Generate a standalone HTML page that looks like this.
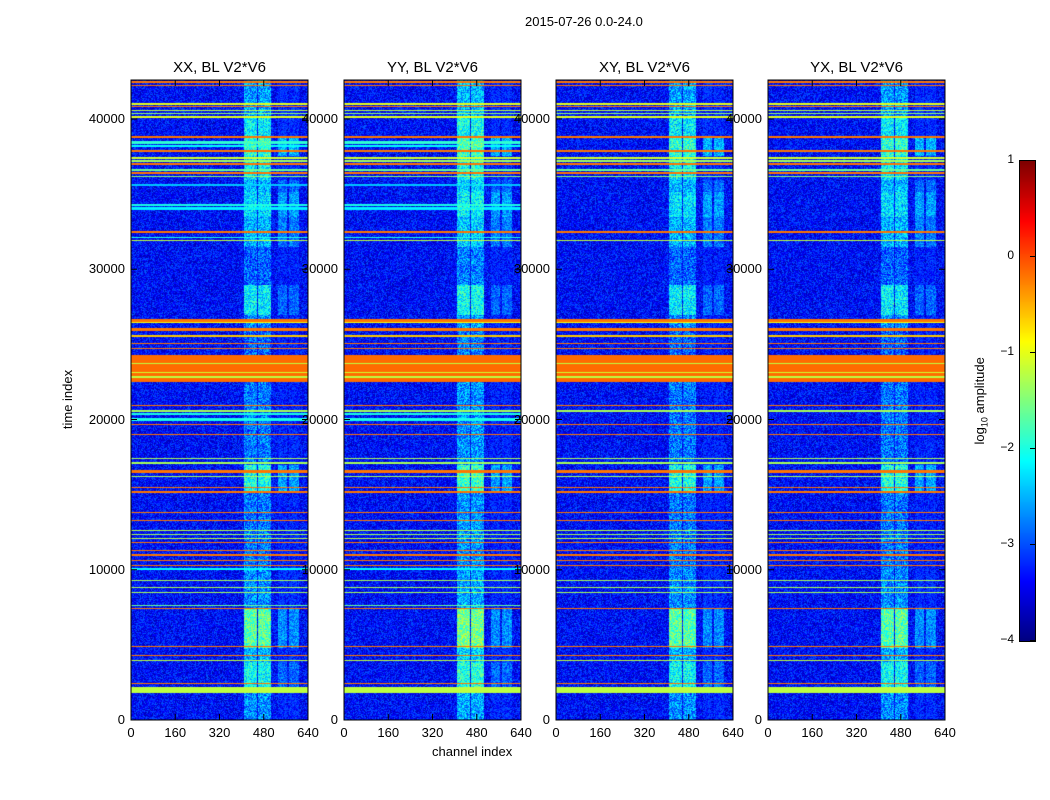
<!DOCTYPE html>
<html><head><meta charset="utf-8">
<style>
body{margin:0;background:#fff;width:1050px;height:800px;overflow:hidden;font-family:"Liberation Sans",sans-serif;}
#wrap{position:relative;width:1050px;height:800px;}
.t{position:absolute;font-size:13px;color:#000;white-space:nowrap;}
canvas{position:absolute;}
</style></head>
<body><div id="wrap">
<div class="t" style="left:525px;top:14px;">2015-07-26 0.0-24.0</div>
<div class="t" style="left:38px;top:392px;transform:rotate(-90deg);">time index</div>
<div class="t" style="left:432px;top:744px;">channel index</div>
<canvas id="cb" width="15" height="480" style="left:1019px;top:160px;border:1px solid #000;box-sizing:content-box;"></canvas>
<div class="t" style="left:937px;top:392px;transform:rotate(-90deg);">log<sub style="font-size:9px">10</sub> amplitude</div>
</div>
<script>
const panelTitles=["XX, BL V2*V6","YY, BL V2*V6","XY, BL V2*V6","YX, BL V2*V6"];
const panelLeft=[131,344,556,768];
const xTicks=[0,160,320,480,640];
const yTicks=[0,10000,20000,30000,40000];
const cbTicks=[1,0,-1,-2,-3,-4];
// horizontal RFI bands: [tStart, tEnd, log10 amplitude, crossPolToo(1) or parallel only(0)]
const hStart=[42450,42200,40950,40800,40550,40350,40100,38750,38400,38150,37850,37400,37200,37000,36550,36400,36150,35550,34250,34000,32450,32100,31900,26550,26450,25950,25550,25050,24700,22550,23700,23100,22800,20900,20550,20300,19950,19650,19000,17400,17100,16450,16200,15450,15150,13800,13250,12600,12350,12050,11800,11250,10950,10600,10280,10000,9280,8800,8480,7600,7400,4880,4300,3950,2400,1800];
const hEnd  =[42550,42300,41100,40900,40650,40450,40200,38900,38550,38300,37950,37500,37300,37100,36700,36500,36250,35700,34350,34150,32550,32200,31980,26700,26550,26150,25650,25150,24800,24300,23800,23200,22900,21000,20650,20450,20150,19750,19100,17480,17200,16650,16280,15550,15300,13900,13350,12700,12420,12150,11900,11350,11050,10700,10380,10150,9360,8880,8560,7700,7500,4960,4380,4030,2500,2200];
const hVal  =[-0.2,-0.2,-1.0,-0.2,-1.2,-1.4,-1.0,-0.2,-1.9,-2.1,-0.2,-1.1,-1.3,-0.2,-1.6,-0.2,-1.4,-2.4,-2.0,-2.2,-0.2,-2.0,-1.2,-0.2,-0.9,-0.2,-0.6,-0.2,-0.2,-0.15,-1.2,-1.1,-1.2,-0.2,-1.3,-2.0,-2.0,-0.2,-0.2,-1.3,-1.3,-0.2,-1.3,-0.2,-0.2,-0.2,-0.2,-1.2,-1.3,-1.2,-0.2,-0.2,-0.2,-0.2,-0.2,-2.1,-1.3,-1.3,-1.3,-1.6,-0.2,-0.2,-0.2,-1.2,-0.2,-1.2];
const hAll  =[1,1,1,1,1,1,1,1,0,0,1,1,1,1,1,1,1,0,0,0,1,0,1,1,1,1,1,1,1,1,1,1,1,1,1,0,0,1,1,1,1,1,1,1,1,1,1,1,1,1,1,1,1,1,1,0,1,1,1,0,1,1,1,1,1,1];
// vertical channel-band activity: [tStart, tEnd, main-band level, side-band level]
const vStart=[0,2000,3900,4800,7500,10000,15300,17000,22500,26000,27000,29000,31500,33500,35200,36000,37600,38800,40200];
const vEnd  =[2000,3900,4800,7500,10000,15300,17000,22500,26000,27000,29000,31500,33500,35200,36000,37600,38800,40200,42600];
const vMain =[-2.7,-2.1,-2.5,-1.7,-2.7,-2.8,-2.0,-2.8,-2.9,-2.7,-2.2,-2.9,-2.5,-2.3,-2.5,-2.2,-1.9,-2.2,-2.6];
const vSide =[-3.3,-2.9,-3.3,-2.7,-3.3,-3.4,-2.6,-3.4,-3.4,-3.4,-2.9,-3.4,-2.8,-2.6,-2.9,-3.3,-2.5,-3.3,-3.3];
const mainCh=[[405,452],[458,503]];
const sideCh=[[528,564],[568,604]];

const T0=720, PPU=601/40000, PW=177, PH=640, TOP=80;
function yOf(t){return T0-t*PPU;}
function xOf(c,left){return left+c*PW/640;}
function jet(v){
  let x=(v+4)/5; x=Math.max(0,Math.min(1,x));
  const f=(a)=>Math.max(0,Math.min(1,a));
  return [f(1.5-Math.abs(4*x-3))*255,f(1.5-Math.abs(4*x-2))*255,f(1.5-Math.abs(4*x-1))*255];
}
function hash(a,b,p){let h=(a*374761393+b*668265263+p*982451653)|0;h=(h^(h>>>13))*1274126177|0;return ((h^(h>>>16))>>>0)/4294967296;}
const wrap=document.getElementById('wrap');
panelLeft.forEach((left,p)=>{
  const cv=document.createElement('canvas');
  cv.width=PW;cv.height=PH;cv.style.left=left+'px';cv.style.top=TOP+'px';
  
  
  wrap.appendChild(cv);
  const ctx=cv.getContext('2d');const img=ctx.createImageData(PW,PH);
  const cross=p>=2;
  for(let py=0;py<PH;py++){
    const t=(T0-(TOP+py))/PPU;
    let seg=-1;for(let i=0;i<vStart.length;i++)if(t>=vStart[i]&&t<vEnd[i]){seg=i;break;}
    let band=null;
    for(let i=0;i<hStart.length;i++){if(t>=hStart[i]&&t<hEnd[i]&&(hAll[i]||!cross)){band=hVal[i];}}
    for(let px=0;px<PW;px++){
      const c=px*640/PW;
      let v=-3.35+(hash(px,py,p)-0.5)*0.9;
      if(seg>=0){
        for(const r of mainCh)if(c>=r[0]&&c<r[1])v=vMain[seg]+(p==1?0.15:0)+(hash(py,px,p+7)-0.5)*1.1;
        for(const r of sideCh)if(c>=r[0]&&c<r[1])v=Math.max(v,vSide[seg]+(hash(py,px,p+9)-0.5)*0.8);
      }
      if(band!==null)v=Math.max(v,band);
      const col=jet(v);const k=(py*PW+px)*4;
      img.data[k]=col[0];img.data[k+1]=col[1];img.data[k+2]=col[2];img.data[k+3]=255;
    }
  }
  ctx.putImageData(img,0,0);
  const ns='http://www.w3.org/2000/svg';
  const svg=document.createElementNS(ns,'svg');
  svg.setAttribute('width',PW+2);svg.setAttribute('height',PH+2);
  svg.style.position='absolute';svg.style.left=(left-1)+'px';svg.style.top=(TOP-1)+'px';svg.style.overflow='visible';
  
  
  let s=`<rect x="1" y="1" width="${PW}" height="${PH}" fill="none" stroke="#000" stroke-width="1"/>`;
  xTicks.forEach(v=>{const x=xOf(v,left)-left+1;s+=`<line x1="${x}" y1="${PH+1}" x2="${x}" y2="${PH-5}" stroke="#000"/><line x1="${x}" y1="1" x2="${x}" y2="7" stroke="#000"/>`;});
  yTicks.forEach(v=>{const y=yOf(v)-TOP+1;s+=`<line x1="1" y1="${y}" x2="7" y2="${y}" stroke="#000"/><line x1="${PW+1}" y1="${y}" x2="${PW-5}" y2="${y}" stroke="#000"/>`;});
  svg.innerHTML=s;wrap.appendChild(svg);
  const tt=document.createElement('div');tt.className='t';tt.textContent=panelTitles[p];
  
  
  tt.style.cssText=`left:${left}px;top:59px;width:${PW}px;text-align:center;font-size:15px;`;
  wrap.appendChild(tt);
  xTicks.forEach(v=>{const d=document.createElement('div');d.className='t';d.textContent=v;
    
    
    d.style.cssText=`left:${xOf(v,left)-20}px;top:725px;width:40px;text-align:center;`;wrap.appendChild(d);});
  yTicks.forEach(v=>{const d=document.createElement('div');d.className='t';d.textContent=v;
    
    
    d.style.cssText=`left:${left-66}px;top:${yOf(v)-8}px;width:60px;text-align:right;`;wrap.appendChild(d);});
});
const cb=document.getElementById('cb').getContext('2d');
for(let y=0;y<480;y++){const c=jet(1-y*5/480);cb.fillStyle=`rgb(${c[0]|0},${c[1]|0},${c[2]|0})`;cb.fillRect(0,y,15,1);}
cbTicks.forEach(v=>{const y=160+(1-v)*96;
  const d=document.createElement('div');d.className='t';d.textContent=v<0?'\u2212'+(-v):v;
  
  
  d.style.cssText=`left:${975}px;top:${y-8}px;width:39px;text-align:right;font-size:12px;`;wrap.appendChild(d);
  const l=document.createElement('div');
  
  l.style.cssText=`position:absolute;left:1030px;top:${y}px;width:5px;height:1px;background:#000;`;wrap.appendChild(l);
});
</script></body></html>
